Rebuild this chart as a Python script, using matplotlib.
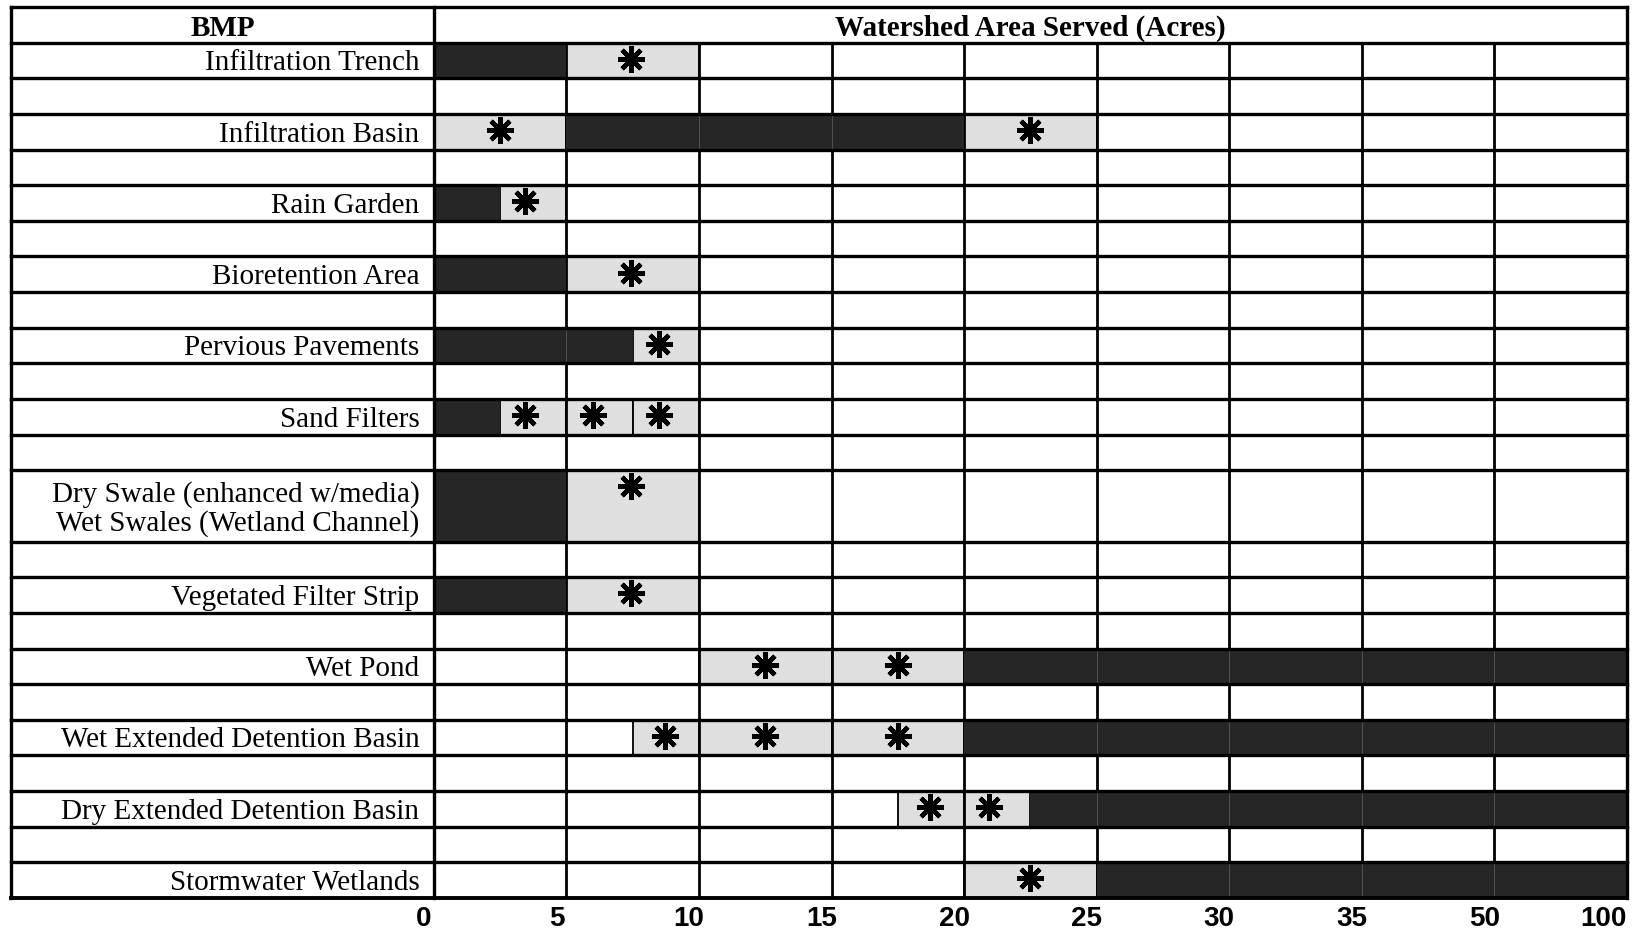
import matplotlib
matplotlib.use('Agg')
import matplotlib.pyplot as plt
import matplotlib.transforms as mtransforms

bmps = ["Infiltration Trench", "Infiltration Basin", "Rain Garden", "Bioretention Area",
        "Pervious Pavements", "Sand Filters",
        "Dry Swale (enhanced w/media)\nWet Swales (Wetland Channel)",
        "Vegetated Filter Strip", "Wet Pond", "Wet Extended Detention Basin",
        "Dry Extended Detention Basin", "Stormwater Wetlands"]
row_span = [1, 1, 1, 1, 1, 1, 2, 1, 1, 1, 1, 1]
area_ticks = ["0", "5", "10", "15", "20", "25", "30", "35", "50", "100"]

# column-index units (0..9 = the ten tick labels)
dark_start = [0, 1, 0, 0, 0, 0, 0, 0, 4, 4, 4.5, 5]
dark_end = [1, 4, 0.5, 1, 1.5, 0.5, 1, 1, 9, 9, 9, 9]
light_cells = [
    [(1, 2)],
    [(0, 1), (4, 5)],
    [(0.5, 1)],
    [(1, 2)],
    [(1.5, 2)],
    [(0.5, 1), (1, 1.5), (1.5, 2)],
    [(1, 2)],
    [(1, 2)],
    [(2, 3), (3, 4)],
    [(1.5, 2), (2, 3), (3, 4)],
    [(3.5, 4), (4, 4.5)],
    [(4, 5)],
]
star_x = [[1.49], [0.5, 4.5], [0.69], [1.49], [1.70], [0.69, 1.2, 1.7], [1.49], [1.49],
          [2.5, 3.5], [1.74, 2.5, 3.5], [3.74, 4.19], [4.5]]

W, H = 1641, 931
fig = plt.figure(figsize=(W / 100, H / 100), dpi=100)
ax = fig.add_axes([11 / W, 33 / H, 1616 / W, 891 / H])
x_left = -3.19
ncol = len(area_ticks) - 1

# row positions (header = row 0..1)
row_top = []
y = 1
for i, span in enumerate(row_span):
    row_top.append(y)
    y += span
    if i < len(row_span) - 1:
        y += 1
y_bottom = y
ax.set_xlim(x_left, ncol)
ax.set_ylim(y_bottom, 0)
ax.axis('off')

light = '#dfdfdf'
dark = '#262626'
lw = 2.0

for i, lab in enumerate(bmps):
    t = row_top[i]
    h = row_span[i]
    for a, b in light_cells[i]:
        ax.add_patch(plt.Rectangle((a, t), b - a, h, facecolor=light, edgecolor='black',
                                   linewidth=1.3, zorder=1))
    ax.add_patch(plt.Rectangle((dark_start[i], t), dark_end[i] - dark_start[i], h,
                               facecolor=dark, edgecolor='none', zorder=3))
    # faint column lines seen through the dark bars
    for c in range(ncol + 1):
        if dark_start[i] < c < dark_end[i]:
            ax.plot([c, c], [t, t + h], color='#5a5a5a', lw=0.6, zorder=3.5)
    ax.text(-0.11, t + h / 2 + 0.08, lab, ha='right', va='center', fontsize=21,
            family='Liberation Serif', linespacing=1.12, zorder=5)
    ax.plot(star_x[i], [t + 0.45] * len(star_x[i]), ls='none', marker=(8, 2, 0), ms=19,
            mew=3.2, color='black', zorder=4)

# vertical lines
for c in range(1, ncol):
    ax.plot([c, c], [1, y_bottom], color='black', lw=lw, zorder=2)
for c in [x_left, 0, ncol]:
    ax.plot([c, c], [0, y_bottom], color='black', lw=lw + 0.4, zorder=4, clip_on=False,
            solid_capstyle='projecting')

# horizontal lines
hl = [0, 1]
for i in range(len(bmps)):
    hl += [row_top[i], row_top[i] + row_span[i]]
hl.append(y_bottom)
for yy in sorted(set(hl)):
    ax.plot([x_left, ncol], [yy, yy], color='black', lw=lw + (0.8 if yy == y_bottom else 0.4),
            zorder=4, clip_on=False, solid_capstyle='projecting')

ax.text(x_left / 2, 0.6, "BMP", ha='center', va='center', fontsize=21,
        family='Liberation Serif', weight='bold')
ax.text(ncol / 2, 0.6, "Watershed Area Served (Acres)", ha='center', va='center',
        fontsize=21, family='Liberation Serif', weight='bold')

shift = mtransforms.ScaledTranslation(-10 / 100, 0, fig.dpi_scale_trans)
for i, lab in enumerate(area_ticks):
    if i == ncol:
        ax.text(i, y_bottom + 0.58, lab, ha='right', va='center', fontsize=20,
                family='Liberation Sans', weight='bold')
    else:
        ax.text(i, y_bottom + 0.58, lab, ha='center', va='center', fontsize=20,
                family='Liberation Sans', weight='bold', transform=ax.transData + shift)

fig.savefig('out.png', dpi=100)
